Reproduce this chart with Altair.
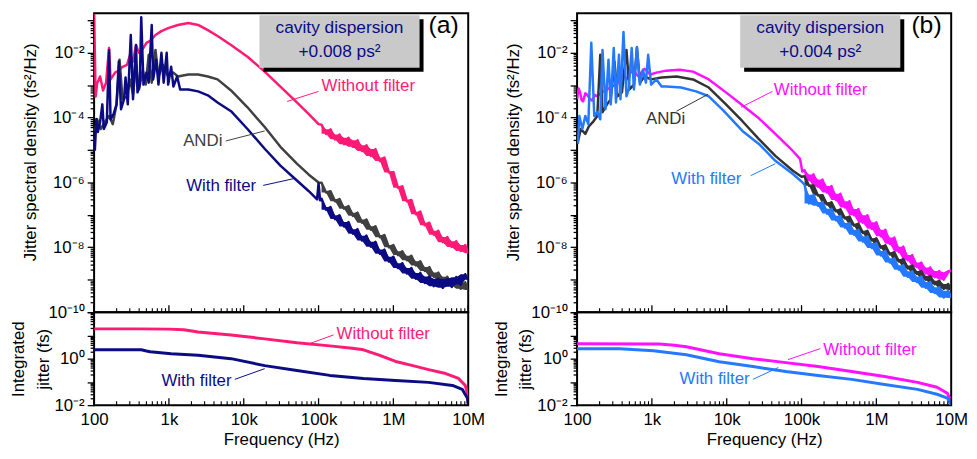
import altair as alt
import pandas as pd

FONT = "Liberation Sans"

# ---------------- data: (log10 frequency [Hz], log10 value) ----------------
noisy_logf = [5.04, 5.10, 5.16, 5.22, 5.28, 5.34, 5.40, 5.46, 5.52, 5.58, 5.64, 5.70,
              5.76, 5.82, 5.88, 5.94, 6.00, 6.06, 6.12, 6.18, 6.24, 6.30, 6.36, 6.42,
              6.48, 6.54, 6.60, 6.66, 6.72, 6.78, 6.84, 6.90, 6.96, 7.00]

# panel (a), jitter spectral density (fs^2/Hz)
a_without_low = [(2.00, -0.80), (2.01, -2.00), (2.02, -3.35), (2.04, -2.95), (2.08, -2.73), (2.12, -3.16),
                 (2.16, -2.92), (2.20, -1.85), (2.22, -2.82), (2.28, -2.61), (2.33, -2.55), (2.38, -2.43),
                 (2.44, -2.37), (2.48, -2.06), (2.52, -2.27), (2.56, -1.76), (2.60, -2.00), (2.65, -1.88),
                 (2.70, -1.69), (2.75, -1.63), (2.82, -1.45), (2.90, -1.33), (2.99, -1.24), (3.12, -1.14),
                 (3.26, -1.08), (3.39, -1.14), (3.52, -1.30), (3.65, -1.48), (3.83, -1.76), (4.05, -2.12),
                 (4.28, -2.58), (4.49, -3.04), (4.71, -3.53), (4.87, -3.89), (5.00, -4.20)]
a_without_noisy = [-4.22, -4.50, -4.36, -4.67, -4.52, -4.82, -4.62, -4.90, -4.70, -5.03, -4.85, -5.18,
                   -4.97, -5.34, -5.23, -5.69, -5.68, -6.16, -6.12, -6.58, -6.54, -6.98, -6.90, -7.32,
                   -7.24, -7.61, -7.49, -7.84, -7.68, -7.99, -7.81, -8.11, -7.93, -8.18]

a_with_low = [(2.01, -5.02), (2.03, -4.04), (2.05, -4.44), (2.08, -4.14), (2.11, -3.59), (2.13, -4.35),
              (2.17, -4.14), (2.20, -1.91), (2.22, -4.05), (2.26, -3.89), (2.30, -3.59), (2.33, -2.27),
              (2.36, -3.74), (2.40, -3.43), (2.42, -2.76), (2.45, -3.59), (2.49, -1.45), (2.52, -3.43),
              (2.56, -1.76), (2.58, -3.22), (2.61, -2.98), (2.63, -0.90), (2.66, -2.98), (2.70, -2.61),
              (2.73, -2.92), (2.77, -1.14), (2.79, -2.82), (2.83, -2.21), (2.86, -2.98), (2.90, -2.00),
              (2.93, -2.92), (2.97, -2.00), (2.99, -2.98), (3.03, -2.43), (3.06, -3.04), (3.11, -2.73),
              (3.15, -3.13), (3.26, -3.13), (3.39, -3.19), (3.52, -3.31), (3.65, -3.53), (3.83, -3.80),
              (4.05, -4.35), (4.28, -4.96), (4.49, -5.48), (4.71, -5.94), (4.87, -6.27), (4.98, -6.52),
              (5.00, -6.03), (5.02, -6.55)]
a_with_noisy = [-6.50, -6.84, -6.76, -7.13, -7.01, -7.36, -7.22, -7.58, -7.44, -7.79, -7.64, -7.98,
                -7.83, -8.20, -8.07, -8.44, -8.29, -8.64, -8.49, -8.81, -8.64, -8.97, -8.79, -9.10,
                -8.90, -9.20, -8.97, -9.25, -8.98, -9.22, -8.92, -9.15, -8.83, -9.00]

a_andi_low = [(2.01, -4.41), (2.04, -4.05), (2.09, -4.35), (2.14, -4.14), (2.20, -3.95), (2.25, -4.20),
              (2.30, -3.59), (2.34, -2.21), (2.38, -3.43), (2.44, -3.34), (2.48, -2.82), (2.52, -3.28),
              (2.56, -2.37), (2.60, -3.13), (2.65, -2.52), (2.69, -2.98), (2.73, -2.06), (2.77, -2.92),
              (2.82, -1.91), (2.86, -2.73), (2.92, -2.37), (2.99, -2.73), (3.06, -2.61), (3.12, -2.73),
              (3.26, -2.67), (3.39, -2.67), (3.52, -2.73), (3.65, -2.82), (3.83, -3.16), (4.05, -3.68),
              (4.28, -4.29), (4.49, -4.90), (4.71, -5.42), (4.87, -5.76), (5.00, -6.00)]
a_andi_noisy = [-6.01, -6.31, -6.27, -6.58, -6.51, -6.81, -6.73, -7.03, -6.93, -7.24, -7.14, -7.46,
                -7.35, -7.69, -7.62, -8.00, -7.93, -8.24, -8.12, -8.40, -8.26, -8.56, -8.43, -8.73,
                -8.61, -8.91, -8.78, -9.07, -8.91, -9.18, -8.99, -9.28, -9.08, -9.32]

# panel (b), jitter spectral density (fs^2/Hz)
b_without_low = [(2.00, -3.43), (2.02, -3.10), (2.04, -3.22), (2.06, -3.45), (2.08, -3.50), (2.11, -3.25),
                 (2.13, -3.28), (2.17, -3.42), (2.20, -3.47), (2.24, -3.30), (2.27, -3.34), (2.33, -3.22),
                 (2.40, -3.13), (2.46, -3.04), (2.53, -2.98), (2.60, -2.67), (2.66, -2.82), (2.74, -2.52),
                 (2.82, -2.73), (2.90, -2.49), (2.98, -2.67), (3.06, -2.61), (3.19, -2.55), (3.37, -2.52),
                 (3.55, -2.58), (3.76, -2.82), (3.99, -3.22), (4.21, -3.62), (4.43, -4.02), (4.65, -4.50),
                 (4.88, -5.02), (4.98, -5.27), (5.01, -5.66)]
b_without_noisy = [-5.62, -5.92, -5.75, -6.13, -5.91, -6.31, -6.11, -6.54, -6.35, -6.77, -6.58, -7.01,
                   -6.82, -7.24, -7.01, -7.43, -7.23, -7.66, -7.46, -7.89, -7.70, -8.14, -7.98, -8.40,
                   -8.24, -8.61, -8.47, -8.81, -8.62, -8.92, -8.73, -9.00, -8.77, -8.70]

b_with_low = [(2.01, -4.81), (2.03, -3.95), (2.07, -4.35), (2.11, -3.95), (2.15, -4.20), (2.19, -1.69),
              (2.23, -3.95), (2.27, -3.83), (2.31, -4.05), (2.34, -1.91), (2.38, -3.74), (2.42, -2.21),
              (2.45, -3.59), (2.49, -1.85), (2.52, -3.53), (2.56, -2.06), (2.58, -3.43), (2.62, -1.36),
              (2.66, -3.34), (2.69, -3.13), (2.73, -1.85), (2.76, -3.13), (2.80, -1.82), (2.84, -2.98),
              (2.88, -2.52), (2.92, -2.92), (2.95, -2.06), (2.99, -2.98), (3.06, -2.82), (3.13, -3.04),
              (3.19, -3.04), (3.39, -3.07), (3.59, -3.19), (3.76, -3.34), (3.95, -3.77), (4.21, -4.41),
              (4.43, -4.81), (4.65, -5.33), (4.88, -5.73), (5.00, -5.97)]
b_with_noisy = [-6.07, -6.65, -6.38, -6.72, -6.60, -6.96, -6.81, -7.17, -7.03, -7.39, -7.25, -7.61,
                -7.46, -7.82, -7.66, -8.02, -7.87, -8.25, -8.11, -8.47, -8.34, -8.69, -8.55, -8.91,
                -8.74, -9.07, -8.90, -9.25, -9.07, -9.41, -9.23, -9.55, -9.34, -9.56]

b_andi_low = [(2.01, -4.75), (2.05, -4.35), (2.11, -4.50), (2.16, -4.26), (2.21, -4.14), (2.27, -3.95),
              (2.31, -2.06), (2.34, -3.83), (2.40, -3.59), (2.45, -3.43), (2.50, -2.27), (2.54, -3.34),
              (2.60, -3.22), (2.66, -1.91), (2.70, -3.13), (2.76, -2.98), (2.80, -1.85), (2.84, -2.92),
              (2.90, -2.73), (2.99, -2.82), (3.13, -2.76), (3.33, -2.73), (3.55, -2.82), (3.76, -3.07),
              (3.99, -3.59), (4.21, -4.11), (4.43, -4.66), (4.65, -5.18), (4.88, -5.63), (5.00, -5.82)]
b_andi_noisy = [-5.81, -6.10, -6.09, -6.40, -6.39, -6.68, -6.61, -6.89, -6.83, -7.11, -7.05, -7.33,
                -7.27, -7.56, -7.49, -7.79, -7.72, -8.01, -7.94, -8.22, -8.15, -8.44, -8.36, -8.65,
                -8.56, -8.82, -8.73, -9.00, -8.88, -9.14, -9.03, -9.28, -9.13, -9.32]

# integrated jitter (fs)
a_without_int = [(2.00, 1.28), (2.60, 1.28), (3.00, 1.27), (3.20, 1.24), (3.39, 1.15), (3.83, 1.02),
                 (4.28, 0.85), (4.71, 0.68), (5.15, 0.55), (5.45, 0.45), (5.60, 0.38), (5.81, 0.15),
                 (6.03, -0.12), (6.26, -0.30), (6.47, -0.47), (6.70, -0.64), (6.87, -0.85), (6.96, -1.15),
                 (6.99, -1.50), (7.00, -1.90)]
a_with_int = [(2.00, 0.38), (2.63, 0.38), (2.70, 0.33), (2.75, 0.30), (3.03, 0.21), (3.39, 0.15),
              (3.83, 0.00), (4.28, -0.30), (4.71, -0.51), (5.15, -0.72), (5.60, -0.85), (6.03, -0.94),
              (6.47, -1.02), (6.79, -1.15), (6.92, -1.32), (6.99, -1.70), (7.00, -2.00)]
b_without_int = [(2.00, 0.64), (3.10, 0.63), (3.30, 0.58), (3.46, 0.51), (3.90, 0.21), (4.35, 0.00),
                 (4.79, -0.17), (5.22, -0.34), (5.67, -0.55), (6.11, -0.77), (6.55, -1.02), (6.81, -1.23),
                 (6.95, -1.49), (7.00, -1.90)]
b_with_int = [(2.00, 0.43), (2.57, 0.43), (3.02, 0.34), (3.46, 0.17), (3.90, -0.13), (4.35, -0.34),
              (4.79, -0.55), (5.22, -0.72), (5.67, -0.89), (6.11, -1.11), (6.55, -1.32), (6.81, -1.53),
              (6.95, -1.70), (7.00, -2.00)]

# axis ticks
x_decades = [1e2, 1e3, 1e4, 1e5, 1e6, 1e7]
x_labels = ["100", "1k", "10k", "100k", "1M", "10M"]
minor_mult = [2, 3, 4, 5, 6, 7, 8, 9]
top_decade_exp = [-10, -9, -8, -7, -6, -5, -4, -3, -2, -1]
top_label_exp = [-10, -8, -6, -4, -2]
bot_decade_exp = [-2, -1, 0, 1, 2]
bot_label_exp = [-2, 0]

# annotations (text, log10 f, log10 value, colour)
a_top_text = [("Without filter", 5.04, -3.04, "#ff1a75"), ("ANDi", 3.19, -4.72, "#404040"),
              ("With filter", 3.23, -6.12, "#0b0b85")]
a_top_lead = [(5.00, -3.19, 4.58, -3.50, "#ff1a75"), (3.76, -4.72, 4.28, -4.41, "#404040"),
              (4.26, -6.09, 4.67, -5.88, "#0b0b85")]
b_top_text = [("Without filter", 4.63, -3.16, "#ff10ff"), ("ANDi", 2.92, -4.05, "#333333"),
              ("With filter", 3.26, -5.88, "#2479ff")]
b_top_lead = [(4.61, -3.19, 4.19, -3.68, "#ff10ff"), (3.33, -3.80, 3.75, -3.28, "#333333"),
              (4.32, -5.79, 4.65, -5.42, "#2479ff")]
a_bot_text = [("Without filter", 5.24, 1.06, "#ff1a75"), ("With filter", 2.90, -0.98, "#0b0b85")]
a_bot_lead = [(5.20, 1.02, 4.84, 0.60, "#ff1a75"), (3.88, -0.89, 4.28, -0.43, "#0b0b85")]
b_bot_text = [("Without filter", 5.29, 0.38, "#ff10ff"), ("With filter", 3.37, -0.89, "#2479ff")]
b_bot_lead = [(5.25, 0.43, 4.82, -0.04, "#ff10ff"), (4.35, -0.89, 4.69, -0.38, "#2479ff")]

a_box = (4.21, 6.35, -0.84, -2.46, 5.28, -1.23, -1.97, "+0.008 ps²", 6.67, -1.14, "(a)")
b_box = (4.18, 6.32, -0.84, -2.46, 5.25, -1.23, -1.97, "+0.004 ps²", 6.67, -1.14, "(b)")

COL = {"a_without": "#ff1a75", "a_with": "#0b0b85", "a_andi": "#404040",
       "b_without": "#ff10ff", "b_with": "#2479ff", "b_andi": "#333333"}

W, HT, HB = 378, 302, 94
XDOM = [1e2, 1e7]
YDOM_TOP = [1e-10, 10 ** -0.779]
YDOM_BOT = [1e-2, 1e2]

SUP = str.maketrans("-0123456789", "⁻⁰¹²³⁴⁵⁶⁷⁸⁹")


def p10(v):
    return 10 ** v


def series_df(low, noisy=None):
    lf = [p[0] for p in low] + (noisy_logf if noisy else [])
    lv = [p[1] for p in low] + (noisy if noisy else [])
    return pd.DataFrame({"f": [p10(v) for v in lf], "v": [p10(v) for v in lv]})


def band_df(noisy):
    # envelope of the noisy part of a trace, from its neighbouring read values
    hi, lo = [], []
    for i in range(len(noisy)):
        nb = noisy[i: i + 2]
        hi.append(max(nb))
        lo.append(min(nb))
    return pd.DataFrame({"f": [p10(v) for v in noisy_logf],
                         "hi": [p10(v) for v in hi], "lo": [p10(v) for v in lo]})


ISDEC = "abs(log(datum.value)/LN10 - round(log(datum.value)/LN10)) < 0.01"
EXP = "round(log(datum.value)/LN10)"


def y_axis(decade_exp, label_exp, title, title_pad, line_h=None, title_y=None):
    vals = []
    for e in decade_exp:
        vals.append(p10(e))
        if e != decade_exp[-1]:
            vals += [m * p10(e) for m in minor_mult]
    expr = "''"
    for e in label_exp:
        expr = f"{EXP} == {e} ? '10{str(e).translate(SUP)}' : ({expr})"
    kw = {}
    if line_h:
        kw["titleLineHeight"] = line_h
    if title_y is not None:
        kw["titleY"] = title_y
    return alt.Axis(values=vals, labelExpr=f"{ISDEC} ? ({expr}) : ''", labelOverlap=False,
                    labelFlush=False,
                    tickSize={"condition": {"test": ISDEC, "value": 7}, "value": 4},
                    labelPadding=3, title=title, titlePadding=title_pad, grid=False, **kw)


def x_axis_bottom():
    expr = f"'{x_labels[0]}'"
    for v, t in zip(x_decades[1:], x_labels[1:]):
        expr = f"datum.value >= {v * 0.9} ? '{t}' : ({expr})"
    return alt.Axis(values=x_decades, labelExpr=expr, ticks=False, labelPadding=7, labelFlush=False,
                    title="Frequency (Hz)", titlePadding=4, grid=False, labelOverlap=False)


def x_tick_layers(xenc, h):
    major = pd.DataFrame({"f": x_decades})
    minor = pd.DataFrame({"f": [m * d for d in x_decades[:-1] for m in minor_mult]})
    r1 = alt.Chart(major).mark_rule(color="black", strokeWidth=1.3).encode(
        x=xenc("f"), y=alt.value(h), y2=alt.value(h - 7))
    r2 = alt.Chart(minor).mark_rule(color="black", strokeWidth=1.1).encode(
        x=xenc("f"), y=alt.value(h), y2=alt.value(h - 4))
    return [r1, r2]


def annot_layers(xenc, yenc, texts, leads):
    layers = []
    for (lab, lf, lv, col) in texts:
        d = pd.DataFrame({"f": [p10(lf)], "v": [p10(lv)], "t": [lab]})
        layers.append(alt.Chart(d).mark_text(align="left", baseline="middle", font=FONT, fontSize=17,
                                             color=col).encode(x=xenc("f"), y=yenc("v"), text="t:N"))
    for (f1, v1, f2, v2, col) in leads:
        d = pd.DataFrame({"f": [p10(f1)], "v": [p10(v1)], "f2": [p10(f2)], "v2": [p10(v2)]})
        layers.append(alt.Chart(d).mark_rule(color=col, strokeWidth=1).encode(
            x=xenc("f"), y=yenc("v"), x2=alt.X2("f2"), y2=alt.Y2("v2")))
    return layers


def top_panel(series, texts, leads, box):
    xs = alt.Scale(type="log", domain=XDOM, padding=0, nice=False)
    ys = alt.Scale(type="log", domain=YDOM_TOP, padding=0, nice=False)
    yax = y_axis(top_decade_exp, top_label_exp, "Jitter spectral density (fs²/Hz)", 9, title_y=140)

    def xenc(f):
        return alt.X(f, type="quantitative", scale=xs, axis=None)

    def yenc(f):
        return alt.Y(f, type="quantitative", scale=ys, axis=yax)

    layers = []
    for low, noisy, col in series:
        layers.append(alt.Chart(band_df(noisy)).mark_area(color=col, opacity=1, clip=True)
                      .encode(x=xenc("f"), y=yenc("hi"), y2=alt.Y2("lo")))
        layers.append(alt.Chart(series_df(low, noisy)).mark_line(color=col, strokeWidth=2.5,
                                                                strokeJoin="round", clip=True)
                      .encode(x=xenc("f"), y=yenc("v")))
    layers += x_tick_layers(xenc, HT)
    fx1, fx2, vy1, vy2, tx, ty1, ty2, line2, tagx, tagy, tag = box
    bd = pd.DataFrame({"f": [p10(fx1)], "f2": [p10(fx2)], "v": [p10(vy1)], "v2": [p10(vy2)]})
    layers.append(alt.Chart(bd).mark_rect(color="black", xOffset=4, x2Offset=4, yOffset=4, y2Offset=4)
                  .encode(x=xenc("f"), x2=alt.X2("f2"), y=yenc("v"), y2=alt.Y2("v2")))
    layers.append(alt.Chart(bd).mark_rect(color="#c9c9c9")
                  .encode(x=xenc("f"), x2=alt.X2("f2"), y=yenc("v"), y2=alt.Y2("v2")))
    td = pd.DataFrame({"f": [p10(tx), p10(tx)], "v": [p10(ty1), p10(ty2)], "t": ["cavity dispersion", line2]})
    layers.append(alt.Chart(td).mark_text(align="center", baseline="middle", font=FONT, fontSize=17.5,
                                          color="#0b0b85").encode(x=xenc("f"), y=yenc("v"), text="t:N"))
    gd = pd.DataFrame({"f": [p10(tagx)], "v": [p10(tagy)], "t": [tag]})
    layers.append(alt.Chart(gd).mark_text(align="center", baseline="middle", font=FONT, fontSize=25,
                                          color="black").encode(x=xenc("f"), y=yenc("v"), text="t:N"))
    layers += annot_layers(xenc, yenc, texts, leads)
    return alt.layer(*layers).properties(width=W, height=HT)


def bottom_panel(series, texts, leads):
    xs = alt.Scale(type="log", domain=XDOM, padding=0, nice=False)
    ys = alt.Scale(type="log", domain=YDOM_BOT, padding=0, nice=False)
    yax = y_axis(bot_decade_exp, bot_label_exp, ["Integrated", "jitter (fs)"], 2, 25)
    xax = x_axis_bottom()

    def xenc(f):
        return alt.X(f, type="quantitative", scale=xs, axis=xax)

    def yenc(f):
        return alt.Y(f, type="quantitative", scale=ys, axis=yax)

    layers = []
    for pts, col in series:
        layers.append(alt.Chart(series_df(pts)).mark_line(color=col, strokeWidth=3, strokeJoin="round",
                                                          clip=True)
                      .encode(x=xenc("f"), y=yenc("v")))
    layers += x_tick_layers(xenc, HB)
    layers += annot_layers(xenc, yenc, texts, leads)
    return alt.layer(*layers).properties(width=W, height=HB)


top_a = top_panel([(a_without_low, a_without_noisy, COL["a_without"]),
                   (a_andi_low, a_andi_noisy, COL["a_andi"]),
                   (a_with_low, a_with_noisy, COL["a_with"])],
                  a_top_text, a_top_lead, a_box)
top_b = top_panel([(b_without_low, b_without_noisy, COL["b_without"]),
                   (b_andi_low, b_andi_noisy, COL["b_andi"]),
                   (b_with_low, b_with_noisy, COL["b_with"])],
                  b_top_text, b_top_lead, b_box)
bot_a = bottom_panel([(a_without_int, COL["a_without"]), (a_with_int, COL["a_with"])], a_bot_text, a_bot_lead)
bot_b = bottom_panel([(b_without_int, COL["b_without"]), (b_with_int, COL["b_with"])], b_bot_text, b_bot_lead)

left = alt.vconcat(top_a, bot_a, spacing=0, bounds="flush")
right = alt.vconcat(top_b, bot_b, spacing=0, bounds="flush")

chart = (alt.hconcat(left, right, spacing=5)
         .properties(padding={"left": 0, "top": 0, "right": 0, "bottom": 0}, background="white")
         .configure_view(stroke="black", strokeWidth=2)
         .configure_axis(labelFont=FONT, titleFont=FONT, labelFontSize=17, titleFontSize=17,
                         titleFontWeight="normal", labelColor="black", titleColor="black",
                         tickColor="black", tickWidth=1.3, domain=False, grid=False))

chart.save("out.html", embed_options={"renderer": "svg", "actions": False})
